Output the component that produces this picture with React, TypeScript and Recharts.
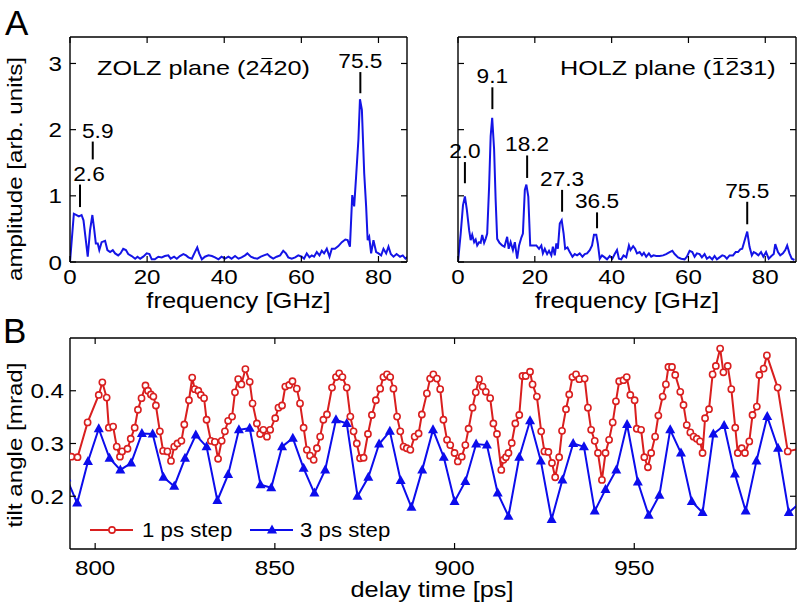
import React from 'react';
import { LineChart, Line, XAxis, YAxis, ReferenceLine } from 'recharts';

// ---------- DATA ----------
const freqA = [0,1.0,1.7,2.3,3.0,3.5,4.2,4.6,5.2,5.8,6.2,6.7,7.2,7.6,8.2,9.1,9.7,10.4,11.1,11.7,12.5,13.1,13.8,14.5,15.1,16.0,16.9,17.5,18.2,19.0,19.9,20.6,21.2,22.0,22.9,23.8,24.6,25.5,26.1,27.0,27.7,28.5,29.4,30.1,30.7,31.6,32.4,33.0,33.5,34.2,35.0,35.9,36.8,37.6,38.5,39.3,40.2,41.1,41.9,42.8,43.7,44.5,45.4,46.0,46.9,47.7,48.6,49.5,50.3,51.2,51.9,52.7,53.6,54.5,55.3,56.0,56.6,57.5,58.4,59.2,60.1,60.7,61.4,62.1,62.7,63.3,64.0,64.7,65.3,65.9,66.6,67.3,67.9,68.7,69.6,70.5,71.4,72.0,72.6,73.2,73.7,74.2,74.8,75.2,75.7,76.3,76.8,77.2,77.6,78.1,78.7,79.4,80.0,80.7,81.3,82.0,82.6,83.2,83.9,84.7,85.6,86.3,87.0,87.6];
const ampA = [0,0.73,0.71,0.69,0.71,0.63,0.28,0.08,0.48,0.71,0.53,0.28,0.28,0.18,0.30,0.32,0.18,0.15,0.18,0.13,0.10,0.13,0.20,0.18,0.12,0.09,0.05,0.08,0.05,0.08,0.13,0.12,0.04,0.04,0.08,0.07,0.09,0.10,0.05,0.08,0.05,0.09,0.12,0.10,0.07,0.05,0.15,0.22,0.13,0.04,0.08,0.10,0.09,0.07,0.04,0.08,0.05,0.08,0.05,0.09,0.05,0.07,0.10,0.13,0.08,0.06,0.05,0.08,0.10,0.12,0.08,0.05,0.08,0.10,0.17,0.13,0.07,0.05,0.07,0.10,0.08,0.05,0.13,0.07,0.10,0.08,0.15,0.10,0.17,0.13,0.20,0.08,0.20,0.20,0.24,0.30,0.34,0.33,0.23,1.01,0.84,1.29,1.85,2.46,2.30,1.34,0.84,0.33,0.38,0.13,0.33,0.15,0.13,0.10,0.20,0.13,0.23,0.12,0.08,0.12,0.08,0.10,0.05,0.08];

const freqB = [0,0.7,1.3,1.8,2.3,2.9,3.3,3.7,4.2,4.6,5.0,5.5,5.9,6.3,6.8,7.2,7.6,8.1,8.5,8.9,9.4,9.8,10.2,10.8,11.5,12.1,12.8,13.2,13.7,14.3,14.8,15.4,15.9,16.5,16.9,17.4,17.8,18.3,18.8,19.5,20.4,21.1,21.7,22.1,22.6,23.2,23.7,24.3,24.7,25.2,25.6,26.0,26.5,27.0,27.5,27.9,28.5,29.1,29.8,30.4,31.0,31.7,32.4,33.0,33.6,34.3,34.9,35.4,36.0,36.4,36.9,37.5,38.2,38.8,39.5,40.2,40.8,41.4,41.9,42.5,43.1,43.8,44.5,44.9,45.6,46.1,46.6,47.3,47.9,48.4,49.0,49.7,50.3,50.9,51.6,52.5,53.4,54.2,55.1,55.8,56.4,57.3,58.1,59.0,59.6,60.3,61.0,61.6,62.2,62.9,63.5,64.2,64.8,65.5,66.2,66.8,67.4,68.1,68.8,69.4,70.0,70.7,71.6,72.3,72.9,73.5,74.0,74.4,75.3,75.9,76.5,77.0,77.6,78.2,78.9,79.5,80.2,80.9,81.6,82.2,82.6,83.3,83.9,84.6,85.2,85.7,86.3,86.9,87.6];
const ampB = [0,0.43,0.86,0.99,0.79,0.48,0.33,0.41,0.30,0.34,0.25,0.30,0.29,0.41,0.29,0.35,0.43,1.14,1.90,2.18,1.70,0.94,0.35,0.29,0.25,0.23,0.38,0.20,0.30,0.18,0.30,0.05,0.25,0.37,0.43,1.09,1.17,0.99,0.25,0.25,0.25,0.20,0.25,0.13,0.20,0.12,0.17,0.10,0.23,0.10,0.28,0.20,0.58,0.63,0.43,0.20,0.22,0.15,0.08,0.12,0.10,0.13,0.08,0.12,0.13,0.18,0.25,0.41,0.41,0.28,0.05,0.10,0.07,0.04,0.09,0.05,0.12,0.18,0.05,0.04,0.10,0.07,0.25,0.18,0.24,0.20,0.13,0.15,0.10,0.14,0.08,0.13,0.08,0.10,0.09,0.09,0.10,0.12,0.15,0.17,0.12,0.07,0.05,0.04,0.08,0.17,0.15,0.08,0.13,0.12,0.07,0.12,0.05,0.08,0.04,0.09,0.04,0.07,0.10,0.09,0.05,0.10,0.10,0.15,0.15,0.19,0.20,0.28,0.46,0.23,0.10,0.15,0.13,0.10,0.15,0.08,0.15,0.05,0.09,0.12,0.27,0.15,0.10,0.13,0.18,0.25,0.13,0.05,0.03];

// peak annotations
const annALabels = ['2.6', '5.9', '75.5'];
const annAX = [2.6, 5.9, 75.3];
const annALow = [0.83, 1.55, 2.55];
const annAHigh = [1.17, 1.82, 2.87];
const annADx = [9, 5, 0];

const annBLabels = ['2.0', '9.1', '18.2', '27.3', '36.5', '75.5'];
const annBX = [1.8, 8.95, 18.0, 27.1, 36.2, 75.3];
const annBLow = [1.19, 2.31, 1.27, 0.76, 0.51, 0.57];
const annBHigh = [1.51, 2.64, 1.61, 1.09, 0.75, 0.91];
const annBDx = [0, 0, 0, 0, 0, 0];

// tilt angle, 1 ps step
const redT = [793.4,795.1,797.9,801.0,802.0,803.2,803.8,805.0,806.0,806.9,807.5,809.0,809.9,811.0,811.9,812.9,814.0,814.7,815.5,816.2,816.9,818.0,818.9,820.1,821.1,822.0,822.9,824.0,824.8,826.1,827.0,827.7,828.7,829.4,830.3,831.0,832.2,833.3,834.2,835.2,836.1,837.0,838.1,838.9,839.8,840.7,841.8,843.0,843.8,845.0,845.9,846.8,847.8,848.7,850.1,851.0,852.0,852.9,854.0,854.9,856.1,857.0,858.0,858.9,859.8,860.8,861.7,862.6,863.5,864.5,865.9,867.0,867.9,868.8,870.0,871.0,871.9,872.8,873.7,874.7,875.9,877.0,878.1,879.3,880.2,881.2,882.1,883.0,884.0,884.9,885.8,886.7,887.7,888.9,890.0,890.9,892.3,893.2,894.1,895.1,896.0,896.9,897.9,898.8,900.0,900.9,902.0,903.0,903.9,905.0,905.9,906.8,907.8,908.7,909.9,910.8,911.8,913.0,913.6,914.3,915.0,915.9,916.9,918.0,918.9,919.8,921.0,921.7,922.9,924.1,925.0,926.1,927.1,928.0,929.1,929.9,931.0,931.9,932.8,933.8,934.7,936.2,937.1,938.0,939.0,939.9,941.0,942.0,943.0,944.0,944.9,945.8,947.0,947.9,948.9,950.1,950.7,951.9,952.8,953.8,954.7,955.8,956.7,957.9,958.8,959.5,960.5,961.4,962.8,963.7,964.6,965.6,966.5,967.4,968.3,969.0,969.7,970.8,971.8,972.7,973.9,974.8,976.0,977.0,978.1,978.8,979.9,980.8,982.0,982.9,984.1,984.8,986.0,986.9,989.9,992.7,996.0];
const redV = [0.275,0.274,0.34,0.392,0.416,0.387,0.33,0.332,0.294,0.275,0.285,0.29,0.309,0.33,0.364,0.386,0.41,0.40,0.393,0.389,0.372,0.323,0.286,0.285,0.267,0.294,0.30,0.305,0.336,0.382,0.425,0.403,0.40,0.392,0.386,0.345,0.305,0.303,0.271,0.305,0.323,0.343,0.351,0.397,0.422,0.412,0.441,0.417,0.376,0.338,0.318,0.326,0.313,0.326,0.348,0.368,0.372,0.408,0.411,0.418,0.404,0.376,0.33,0.288,0.277,0.269,0.291,0.313,0.345,0.355,0.406,0.426,0.433,0.426,0.406,0.351,0.323,0.30,0.272,0.273,0.318,0.354,0.382,0.404,0.426,0.431,0.426,0.404,0.351,0.323,0.294,0.291,0.288,0.313,0.319,0.355,0.395,0.423,0.431,0.423,0.403,0.345,0.307,0.297,0.282,0.266,0.275,0.297,0.328,0.368,0.397,0.422,0.408,0.398,0.386,0.338,0.318,0.25,0.269,0.274,0.282,0.301,0.338,0.354,0.428,0.428,0.436,0.412,0.389,0.323,0.285,0.284,0.263,0.236,0.274,0.324,0.365,0.393,0.426,0.431,0.422,0.423,0.368,0.326,0.305,0.282,0.231,0.282,0.307,0.34,0.38,0.418,0.42,0.426,0.392,0.382,0.328,0.326,0.274,0.255,0.282,0.313,0.353,0.389,0.412,0.445,0.445,0.43,0.398,0.373,0.335,0.321,0.313,0.309,0.304,0.282,0.348,0.365,0.431,0.447,0.48,0.435,0.447,0.403,0.33,0.282,0.291,0.282,0.304,0.354,0.37,0.43,0.442,0.467,0.406,0.285,0.29];

// tilt angle, 3 ps step
const blueT = [792,795,798,801,804,807,810,813,816,819,822,825,828,831,834,837,840,843,846,849,852,855,858,861,864,867,870,873,876,879,882,885,888,891,894,897,900,903,906,909,912,915,918,921,924,927,930,933,936,939,942,945,948,951,954,957,960,963,966,969,972,975,978,981,984,987,990,993,996];
const blueV = [0.235,0.187,0.266,0.328,0.272,0.25,0.263,0.319,0.318,0.236,0.219,0.272,0.316,0.294,0.192,0.241,0.326,0.329,0.222,0.216,0.294,0.31,0.253,0.206,0.25,0.345,0.338,0.2,0.236,0.299,0.323,0.23,0.179,0.25,0.326,0.274,0.19,0.228,0.299,0.297,0.206,0.162,0.274,0.343,0.267,0.156,0.231,0.3,0.294,0.172,0.213,0.25,0.336,0.227,0.164,0.202,0.326,0.282,0.19,0.169,0.318,0.334,0.242,0.172,0.267,0.351,0.291,0.169,0.187];

const freqTicks = [0, 20, 40, 60, 80];
const ampTicks = [0, 1, 2, 3];
const delayTicks = [800, 850, 900, 950];
const tiltTicks = [0.2, 0.3, 0.4];

// ---------- STYLE ----------
const FONT = '"Liberation Sans", Arial, Helvetica, sans-serif';
const SX = 1.15;
const INK = '#000';
const SPEC_BLUE = '#1414e6';
const BLUE = '#0c0cec';
const RED = '#d91f1f';
const TICK_LEN = 6;
const axisLineStyle = { stroke: '#000', strokeWidth: 1.4 };

const specDataA = freqA.map((f, i) => ({ f, a: ampA[i] }));
const specDataB = freqB.map((f, i) => ({ f, a: ampB[i] }));
const redData = redT.map((t, i) => ({ t, v: redV[i] }));
const blueData = blueT.map((t, i) => ({ t, v: blueV[i] }));

function makeTick(side: string, show: boolean, dec: number, off: number) {
  return function Tick(props: any) {
    const { x, y, payload } = props;
    const txt = Number(payload.value).toFixed(dec);
    let l: any = null;
    let t: any = null;
    const ts = { fontFamily: FONT, fontSize: 21, fill: INK } as any;
    if (side === 'bottom') {
      l = <line x1={x} y1={y} x2={x} y2={y - TICK_LEN} stroke="#000" strokeWidth={1.2} />;
      if (show) t = <text transform={`translate(${x},${y + off}) scale(${SX},1)`} textAnchor="middle" style={ts}>{txt}</text>;
    } else if (side === 'top') {
      l = <line x1={x} y1={y} x2={x} y2={y + TICK_LEN} stroke="#000" strokeWidth={1.2} />;
    } else if (side === 'left') {
      l = <line x1={x} y1={y} x2={x + TICK_LEN} y2={y} stroke="#000" strokeWidth={1.2} />;
      if (show) t = <text transform={`translate(${x - off},${y + 7.5}) scale(${SX},1)`} textAnchor="end" style={ts}>{txt}</text>;
    } else {
      l = <line x1={x} y1={y} x2={x - TICK_LEN} y2={y} stroke="#000" strokeWidth={1.2} />;
    }
    return <g>{l}{t}</g>;
  };
}

function makeAnnLabel(text: string, dx: number) {
  return function AnnLabel(props: any) {
    const vb = props.viewBox || {};
    const cx = (vb.x ?? 0) + (vb.width ?? 0) / 2 + dx;
    const top = vb.y ?? 0;
    return (
      <text transform={`translate(${cx},${top - 4}) scale(1.08,1)`} textAnchor="middle"
        style={{ fontFamily: FONT, fontSize: 21, fill: INK }}>{text}</text>
    );
  };
}

function Triangle(props: any) {
  const { cx, cy, index } = props;
  if (cx == null || cy == null) return <g key={`tri-${index}`} />;
  return <path key={`tri-${index}`} d={`M${cx},${cy - 5.5} L${cx + 5},${cy + 3.5} L${cx - 5},${cy + 3.5} Z`} fill={BLUE} />;
}

function SpectrumPanel(props: any) {
  const { data, width, margin, yAxisWidth, xMax, labels, xs, lows, highs, dxs, showYLabels } = props;
  return (
    <LineChart width={width} height={300} data={data} margin={margin}>
      <XAxis xAxisId="b" type="number" dataKey="f" domain={[0, xMax]} allowDataOverflow ticks={freqTicks}
        interval={0} height={30} tickSize={0} tickMargin={0} tickLine={false} axisLine={axisLineStyle}
        tick={makeTick('bottom', true, 0, 22)} />
      <XAxis xAxisId="t" orientation="top" type="number" dataKey="f" domain={[0, xMax]} allowDataOverflow ticks={freqTicks}
        interval={0} height={1} tickSize={0} tickMargin={0} tickLine={false} axisLine={axisLineStyle}
        tick={makeTick('top', false, 0, 0)} />
      <YAxis yAxisId="l" type="number" domain={[0, 3.4]} allowDataOverflow ticks={ampTicks}
        interval={0} width={yAxisWidth} tickSize={0} tickMargin={0} tickLine={false} axisLine={axisLineStyle}
        tick={makeTick('left', showYLabels, 0, 8)} />
      <YAxis yAxisId="r" orientation="right" type="number" domain={[0, 3.4]} allowDataOverflow ticks={ampTicks}
        interval={0} width={1} tickSize={0} tickMargin={0} tickLine={false} axisLine={axisLineStyle}
        tick={makeTick('right', false, 0, 0)} />
      <Line xAxisId="b" yAxisId="l" type="linear" dataKey="a" stroke={SPEC_BLUE} strokeWidth={2}
        dot={false} activeDot={false} isAnimationActive={false} />
      {labels.map((lab: string, i: number) => (
        <ReferenceLine key={lab + i} xAxisId="b" yAxisId="l"
          segment={[{ x: xs[i], y: lows[i] }, { x: xs[i], y: highs[i] }]}
          stroke="#000" strokeWidth={2} ifOverflow="visible"
          label={makeAnnLabel(lab, dxs[i])} />
      ))}
    </LineChart>
  );
}

function SvgText(props: any) {
  const { x, y, size, anchor, rotate, sx, children } = props;
  const tr = `translate(${x},${y})${rotate ? ` rotate(${rotate})` : ''} scale(${sx ?? SX},1)`;
  return (
    <text transform={tr} textAnchor={anchor || 'start'} style={{ fontFamily: FONT, fontSize: size, fill: INK }}>
      {children}
    </text>
  );
}

function Bar(props: any) {
  return (
    <span style={{ position: 'relative' }}>
      {props.children}
      <span style={{ position: 'absolute', left: 1.5, right: 1.5, top: 1.5, height: 1.6, background: INK }} />
    </span>
  );
}

export default function App() {
  const inner = { position: 'absolute', whiteSpace: 'nowrap', fontFamily: FONT, fontSize: 21, lineHeight: '21px',
    color: INK, transformOrigin: '0 0', transform: 'scaleX(1.2)' } as any;
  return (
    <div style={{ position: 'absolute', left: 0, top: 0, width: 799, height: 607, background: '#fff', overflow: 'hidden' }}>
      <div style={{ position: 'absolute', left: 0, top: 0 }}>
        <SpectrumPanel data={specDataA} width={420} margin={{ top: 36, right: 12, bottom: 8, left: 0 }}
          yAxisWidth={70} xMax={87.4} labels={annALabels} xs={annAX} lows={annALow} highs={annAHigh} dxs={annADx}
          showYLabels={true} />
      </div>
      <div style={{ position: 'absolute', left: 420, top: 0 }}>
        <SpectrumPanel data={specDataB} width={379} margin={{ top: 36, right: 2, bottom: 8, left: 0 }}
          yAxisWidth={38} xMax={88} labels={annBLabels} xs={annBX} lows={annBLow} highs={annBHigh} dxs={annBDx}
          showYLabels={false} />
      </div>
      <div style={{ position: 'absolute', left: 0, top: 300 }}>
        <LineChart width={799} height={307} margin={{ top: 37, right: 2, bottom: 28, left: 0 }}>
          <XAxis xAxisId="b" type="number" dataKey="t" domain={[793, 995]} allowDataOverflow ticks={delayTicks}
            interval={0} height={30} tickSize={0} tickMargin={0} tickLine={false} axisLine={axisLineStyle}
            tick={makeTick('bottom', true, 0, 26)} />
          <XAxis xAxisId="t" orientation="top" type="number" dataKey="t" domain={[793, 995]} allowDataOverflow ticks={delayTicks}
            interval={0} height={1} tickSize={0} tickMargin={0} tickLine={false} axisLine={axisLineStyle}
            tick={makeTick('top', false, 0, 0)} />
          <YAxis yAxisId="l" type="number" domain={[0.1, 0.5]} allowDataOverflow ticks={tiltTicks}
            interval={0} width={70} tickSize={0} tickMargin={0} tickLine={false} axisLine={axisLineStyle}
            tick={makeTick('left', true, 1, 6)} />
          <YAxis yAxisId="r" orientation="right" type="number" domain={[0.1, 0.5]} allowDataOverflow ticks={tiltTicks}
            interval={0} width={1} tickSize={0} tickMargin={0} tickLine={false} axisLine={axisLineStyle}
            tick={makeTick('right', false, 0, 0)} />
          <Line xAxisId="b" yAxisId="l" data={blueData} type="linear" dataKey="v" stroke={BLUE} strokeWidth={2}
            dot={Triangle} activeDot={false} isAnimationActive={false} />
          <Line xAxisId="b" yAxisId="l" data={redData} type="linear" dataKey="v" stroke={RED} strokeWidth={2}
            dot={{ r: 3.1, stroke: RED, strokeWidth: 1.6, fill: '#fff' }} activeDot={false} isAnimationActive={false} />
        </LineChart>
      </div>

      <div style={{ ...inner, left: 97, top: 57 }}>ZOLZ plane (2<Bar>4</Bar>20)</div>
      <div style={{ ...inner, left: 560, top: 57 }}>HOLZ plane (<Bar>1</Bar><Bar>2</Bar>31)</div>

      <svg width={799} height={607} style={{ position: 'absolute', left: 0, top: 0, pointerEvents: 'none' }}>
        <SvgText x={5} y={35} size={35} sx={1}>A</SvgText>
        <SvgText x={3} y={343} size={35} sx={1}>B</SvgText>
        <SvgText x={238.5} y={308} size={22} anchor="middle" sx={1.16}>frequency [GHz]</SvgText>
        <SvgText x={627} y={308} size={22} anchor="middle" sx={1.16}>frequency [GHz]</SvgText>
        <SvgText x={22} y={169} size={21} anchor="middle" rotate={-90}>amplitude [arb. units]</SvgText>
        <SvgText x={22} y={445} size={21} anchor="middle" rotate={-90}>tilt angle [mrad]</SvgText>
        <SvgText x={432} y={597} size={22} anchor="middle">delay time [ps]</SvgText>
        {/* legend */}
        <line x1={90} y1={530} x2={133} y2={530} stroke={RED} strokeWidth={2} />
        <circle cx={112} cy={530} r={3.1} stroke={RED} strokeWidth={1.6} fill="#fff" />
        <SvgText x={142} y={537} size={21} sx={1.06}>1 ps step</SvgText>
        <line x1={250} y1={530} x2={293} y2={530} stroke={BLUE} strokeWidth={2} />
        <path d="M272,524.5 L277,533.5 L267,533.5 Z" fill={BLUE} />
        <SvgText x={300} y={537} size={21} sx={1.06}>3 ps step</SvgText>
      </svg>
    </div>
  );
}
